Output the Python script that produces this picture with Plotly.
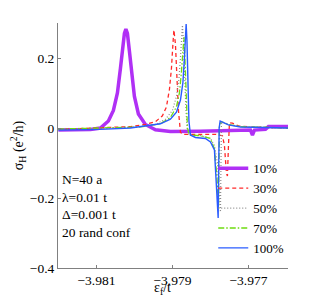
import plotly.graph_objects as go

# ---- data ----
x_10 = [-3.982000, -3.981158, -3.980895, -3.980684, -3.980553, -3.980447, -3.980368, -3.980316,
        -3.980263, -3.980224, -3.980184, -3.980132, -3.980079, -3.980000, -3.979895, -3.979711,
        -3.979447, -3.979053, -3.978263, -3.977211, -3.976947, -3.976895, -3.976842, -3.976553,
        -3.976474, -3.975947]
y_10 = [-0.006, -0.004, 0.0, 0.02, 0.05, 0.1, 0.17, 0.22, 0.27, 0.283, 0.27, 0.22, 0.16, 0.09,
        0.04, 0.01, -0.005, -0.01, -0.009, -0.006, -0.006, -0.02, -0.006, -0.004, 0.004, 0.004]

x_30 = [-3.982000, -3.980895, -3.980105, -3.979711, -3.979447, -3.979263, -3.979158, -3.979079,
        -3.979026, -3.978987, -3.978961, -3.978921, -3.978882, -3.978842, -3.978789, -3.978737,
        -3.978658, -3.978263, -3.977868, -3.977684, -3.977632, -3.977579, -3.977553, -3.977526,
        -3.977500, -3.977421, -3.977263, -3.976947, -3.976421, -3.975947]
y_30 = [-0.004, 0.0, 0.004, 0.01, 0.018, 0.035, 0.06, 0.11, 0.17, 0.24, 0.28, 0.24, 0.13, 0.05,
        -0.012, -0.018, -0.018, -0.018, -0.018, -0.022, -0.05, -0.13, -0.137, -0.05, 0.015, 0.014,
        0.006, 0.003, 0.001, 0.0]

x_50 = [-3.982000, -3.980895, -3.979842, -3.979447, -3.979184, -3.979000, -3.978895, -3.978829,
        -3.978789, -3.978763, -3.978737, -3.978711, -3.978684, -3.978645, -3.978605, -3.978553,
        -3.978263, -3.978000, -3.977895, -3.977816, -3.977763, -3.977737, -3.977711, -3.977658,
        -3.977474, -3.977079, -3.975947]
y_50 = [-0.004, -0.002, 0.004, 0.01, 0.025, 0.05, 0.09, 0.14, 0.2, 0.26, 0.294, 0.25, 0.15, 0.05,
        -0.01, -0.02, -0.022, -0.03, -0.05, -0.1, -0.2, -0.24, 0.012, 0.015, 0.008, 0.003, 0.0]

x_70 = [-3.982000, -3.980895, -3.979842, -3.979316, -3.979053, -3.978895, -3.978816, -3.978763,
        -3.978724, -3.978697, -3.978671, -3.978645, -3.978605, -3.978553, -3.978263, -3.978000,
        -3.977895, -3.977829, -3.977789, -3.977763, -3.977711, -3.977526, -3.977211, -3.975947]
y_70 = [-0.003, -0.001, 0.003, 0.012, 0.03, 0.06, 0.1, 0.16, 0.22, 0.26, 0.2, 0.1, 0.0, -0.02,
        -0.022, -0.03, -0.06, -0.14, -0.23, 0.01, 0.018, 0.01, 0.004, 0.0]

x_100 = [-3.982000, -3.980895, -3.980105, -3.979711, -3.979316, -3.979053, -3.978895, -3.978789,
         -3.978724, -3.978684, -3.978658, -3.978639, -3.978618, -3.978592, -3.978566, -3.978526,
         -3.978395, -3.978132, -3.978000, -3.977895, -3.977842, -3.977797, -3.977771, -3.977745,
         -3.977684, -3.977526, -3.977211, -3.976684, -3.975947]
y_100 = [-0.006, -0.004, 0.0, 0.006, 0.012, 0.025, 0.045, 0.08, 0.13, 0.2, 0.27, 0.297, 0.25, 0.12,
         0.02, -0.02, -0.027, -0.03, -0.04, -0.063, -0.16, -0.257, 0.0, 0.02, 0.017, 0.009, 0.003,
         0.001, 0.0]

x_ticks = [-3.981, -3.979, -3.977]
x_tick_text = ["\u22123.981", "\u22123.979", "\u22123.977"]
y_ticks = [-0.4, -0.2, 0, 0.2]
y_tick_text = ["\u22120.4", "\u22120.2", "0", "0.2"]

series = [
    ("10%", x_10, y_10, "#B030F5", 3.5, "solid"),
    ("30%", x_30, y_30, "#FF2A2A", 1.3, "4px,3px"),
    ("50%", x_50, y_50, "#8C8C8C", 1.2, "1px,2px"),
    ("70%", x_70, y_70, "#6FDC10", 1.3, "6px,2px,1.5px,2px"),
    ("100%", x_100, y_100, "#2A5CFF", 1.4, "solid"),
]

FONT = "Liberation Serif, Times New Roman, serif"

fig = go.Figure()
for name, xs, ys, col, w, dash in series:
    fig.add_trace(go.Scatter(x=xs, y=ys, mode="lines", name=name,
                             line=dict(color=col, width=w, dash=dash)))

fig.update_layout(
    width=310, height=294,
    margin=dict(l=50, r=30, t=15, b=34, autoexpand=False),
    paper_bgcolor="white", plot_bgcolor="white",
    font=dict(family=FONT, size=14, color="black"),
    showlegend=True,
    legend=dict(x=0.675, y=0.468, xanchor="left", yanchor="top",
                bgcolor="rgba(0,0,0,0)", borderwidth=0,
                font=dict(family=FONT, size=13), tracegroupgap=0, itemwidth=30),
    xaxis=dict(range=[-3.98201, -3.97596], tickvals=x_ticks, ticktext=x_tick_text,
               ticks="inside", ticklen=3, tickcolor="#808080", showline=True,
               linecolor="#808080", linewidth=1, mirror=False, showgrid=False, zeroline=False,
               automargin=False, tickfont=dict(family=FONT, size=13.5)),
    yaxis=dict(range=[-0.4, 0.3], tickvals=y_ticks, ticktext=y_tick_text,
               ticks="inside", ticklen=3, tickcolor="#808080", showline=True,
               linecolor="#808080", linewidth=1, mirror=False, showgrid=False, zeroline=False,
               automargin=False, tickfont=dict(family=FONT, size=13.5),
               title=dict(text="\u03c3<sub>H</sub> (e<sup>2</sup>/h)", standoff=4,
                          font=dict(family=FONT, size=14))),
)

fig.add_annotation(xref="paper", yref="paper", x=0.01, y=0.40, xanchor="left", yanchor="top",
                   showarrow=False, align="left",
                   text="N=40 a<br>\u03bb=0.01 t<br>\u0394=0.001 t<br>20 rand conf",
                   font=dict(family=FONT, size=13.5))
fig.add_annotation(xref="paper", yref="paper", x=0.455, y=-0.085, xanchor="center", yanchor="middle",
                   showarrow=False, text="\u03b5<sub>f</sub>/t",
                   font=dict(family=FONT, size=14))

fig.write_html("out.html")
